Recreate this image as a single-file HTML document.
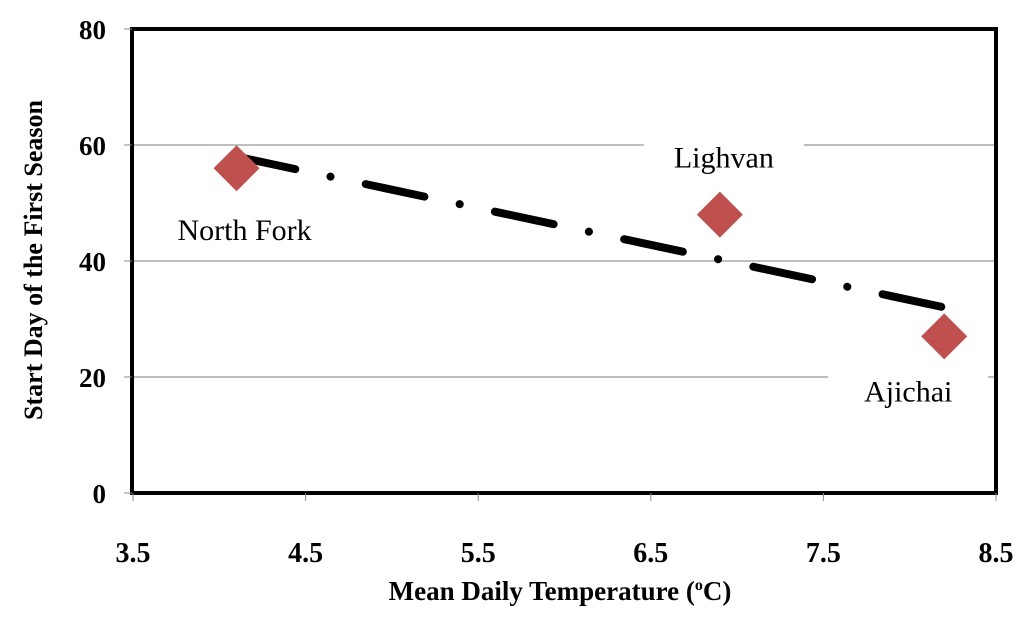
<!DOCTYPE html>
<html><head><meta charset="utf-8"><style>
body{margin:0;background:#fff;}
svg{display:block;font-family:"Liberation Serif",serif;}
</style></head><body>
<svg width="1024" height="621">
<g id="grid"></g>
<rect x="132" y="29" width="864" height="464" fill="none" stroke="#000" stroke-width="4"/>
<g id="yticks"></g>
<g id="xticks"></g>
<g id="marks"></g>
<text x="560" y="600" text-anchor="middle" font-size="27" font-weight="bold">Mean Daily Temperature (<tspan font-size="16" dy="-10">o</tspan><tspan dy="10">C)</tspan></text>
<text transform="translate(42,260) rotate(-90)" text-anchor="middle" font-size="26" font-weight="bold">Start Day of the First Season</text>
</svg>
<script>
const names=["North Fork","Lighvan","Ajichai"];
const temps=[4.1,6.9,8.2];
const days=[56,48,27];
const xTicks=[3.5,4.5,5.5,6.5,7.5,8.5];
const xTickLabels=["3.5","4.5","5.5","6.5","7.5","8.5"];
const yTicks=[0,20,40,60,80];
const trendStart=[4.1,58];
const trendEnd=[8.2,32];
const NS="http://www.w3.org/2000/svg";
const X=v=>133+(v-3.5)*172.6, Y=v=>493-v*5.8;
function mk(t,a,p){const e=document.createElementNS(NS,t);for(const k in a)e.setAttribute(k,a[k]);p.appendChild(e);return e;}
const g=document.getElementById('grid'),yt=document.getElementById('yticks'),xt=document.getElementById('xticks'),m=document.getElementById('marks');
yTicks.forEach(v=>{
 if(v>0&&v<80){const l=mk('line',{x1:132,x2:996,y1:Y(v),y2:Y(v),stroke:'#999','stroke-width':1.3},g);
 
 }
 const tk=mk('line',{x1:124,x2:132,y1:Y(v),y2:Y(v),stroke:'#888'},yt);
 
 
 const t=mk('text',{x:106,y:Y(v)+10,'text-anchor':'end','font-size':27,'font-weight':'bold'},yt);t.textContent=v;
 
 
});
xTicks.forEach((v,i)=>{
 const tk=mk('line',{x1:X(v),x2:X(v),y1:493,y2:501,stroke:'#888'},xt);
 
 
 const t=mk('text',{x:X(v),y:562,'text-anchor':'middle','font-size':28,'font-weight':'bold'},xt);t.textContent=xTickLabels[i];
 
 
});
const tr=mk('line',{x1:X(trendStart[0]),y1:Y(trendStart[1]),x2:X(trendEnd[0]),y2:Y(trendEnd[1]),stroke:'#000','stroke-width':8,'stroke-linecap':'round','stroke-dasharray':'60 36 0.1 36'},m);


const lblPos=[[8,72],[4,-47],[-36,65]];
temps.forEach((v,i)=>{
 const cx=X(v),cy=Y(days[i]);
 const p=mk('polygon',{points:`${cx},${cy-23} ${cx+23},${cy} ${cx},${cy+23} ${cx-23},${cy}`,fill:'#c0504d'},m);
 
 
 const bg=mk('rect',{x:cx+lblPos[i][0]-80,y:cy+lblPos[i][1]-27,width:160,height:36,fill:'#fff'},m);
 
 
 const t=mk('text',{x:cx+lblPos[i][0],y:cy+lblPos[i][1],'text-anchor':'middle','font-size':30},m);t.textContent=names[i];
 
 
});
</script>
</body></html>
